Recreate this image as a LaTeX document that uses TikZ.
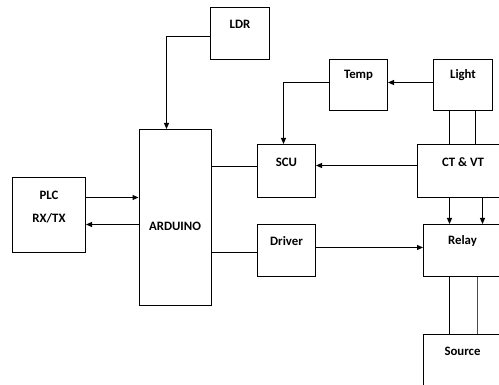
\documentclass[tikz,border=0pt]{standalone}
\usepackage{fontspec}
\setmainfont{Carlito}
\usetikzlibrary{arrows.meta}

\begin{document}
\begin{tikzpicture}[x=1pt, y=-1pt,
    block/.style={draw, line width=1pt, anchor=north west, inner sep=0pt},
    lbl/.style={font=\fontsize{12.8}{23}\selectfont\bfseries, align=center, anchor=center},
    link/.style={line width=1pt},
    arr/.style={link, -{Triangle[length=6pt, width=5pt]}}]
    \useasboundingbox (0,0) rectangle (499,385);
    \clip (0,0) rectangle (499,385);

    % Blocks
    \node[block, minimum width=59pt, minimum height=52pt,
        label={[lbl, yshift=-17pt]north:LDR}] (ldr) at (210,7) {};
    \node[block, minimum width=72pt, minimum height=176pt,
        label={[lbl, yshift=-97pt]north:ARDUINO}] (arduino) at (138.5,129) {};
    \node[block, minimum width=73pt, minimum height=75pt,
        label={[lbl, yshift=-30.5pt]north:PLC\\RX/TX}] (plc) at (12,177) {};
    \node[block, minimum width=58pt, minimum height=53pt,
        label={[lbl, yshift=-18pt]north:SCU}] (scu) at (257,144) {};
    \node[block, minimum width=58pt, minimum height=52pt,
        label={[lbl, yshift=-17pt]north:Driver}] (driver) at (257,224) {};
    \node[block, minimum width=58pt, minimum height=51pt,
        label={[lbl, yshift=-16pt]north:Temp}] (temp) at (329,59) {};
    \node[block, minimum width=59pt, minimum height=51pt,
        label={[lbl, yshift=-16pt]north:Light}] (light) at (433,59) {};
    \node[block, minimum width=91pt, minimum height=53pt,
        label={[lbl, yshift=-18pt]north:CT \& VT}] (ctvt) at (417,144) {};
    \node[block, minimum width=78pt, minimum height=52pt,
        label={[lbl, yshift=-17pt]north:Relay}] (relay) at (423,224) {};
    \node[block, minimum width=78pt, minimum height=62pt,
        label={[lbl, yshift=-17pt]north:Source}] (source) at (423,334) {};

    % Connections
    \draw[arr] ([yshift=-3pt]ldr.west) -| ([xshift=-8.5pt]arduino.north);
    \coordinate (plcout) at ([yshift=17.5pt]plc.east);
    \draw[arr] (plcout) -- (arduino.west |- plcout);
    \coordinate (plcin) at ([yshift=-9.5pt]plc.east);
    \draw[arr] (arduino.west |- plcin) -- (plcin);
    \coordinate (scuin) at ([yshift=4.5pt]scu.west);
    \draw[link] (arduino.east |- scuin) -- (scuin);
    \coordinate (drvin) at ([yshift=-2pt]driver.west);
    \draw[link] (arduino.east |- drvin) -- (drvin);
    \draw[arr] ([yshift=3pt]driver.east) -- ([yshift=3pt]relay.west);
    \draw[arr] ([yshift=2.5pt]temp.west) -| ([xshift=-3pt]scu.north);
    \draw[arr] ([yshift=2.5pt]light.west) -- ([yshift=2.5pt]temp.east);
    \draw[arr] ([yshift=5.5pt]ctvt.west) -- ([yshift=5.5pt]scu.east);

    % Light to CT & VT
    \draw[link] ([xshift=-13.5pt]light.south) -- ([xshift=-13.5pt]light.south |- ctvt.north);
    \draw[link] ([xshift=12.5pt]light.south) -- ([xshift=12.5pt]light.south |- ctvt.north);

    % CT & VT to Relay
    \draw[arr] ([xshift=-13.5pt]ctvt.south) -- ([xshift=-13.5pt]ctvt.south |- relay.north);
    \draw[arr] ([xshift=19.5pt]ctvt.south) -- ([xshift=19.5pt]ctvt.south |- relay.north);

    % Relay to Source
    \draw[link] ([xshift=-13pt]relay.south) -- ([xshift=-13pt]relay.south |- source.north);
    \draw[link, gray!60!black] ([xshift=15pt]relay.south) -- ([xshift=15pt]relay.south |- source.north);
\end{tikzpicture}
\end{document}
